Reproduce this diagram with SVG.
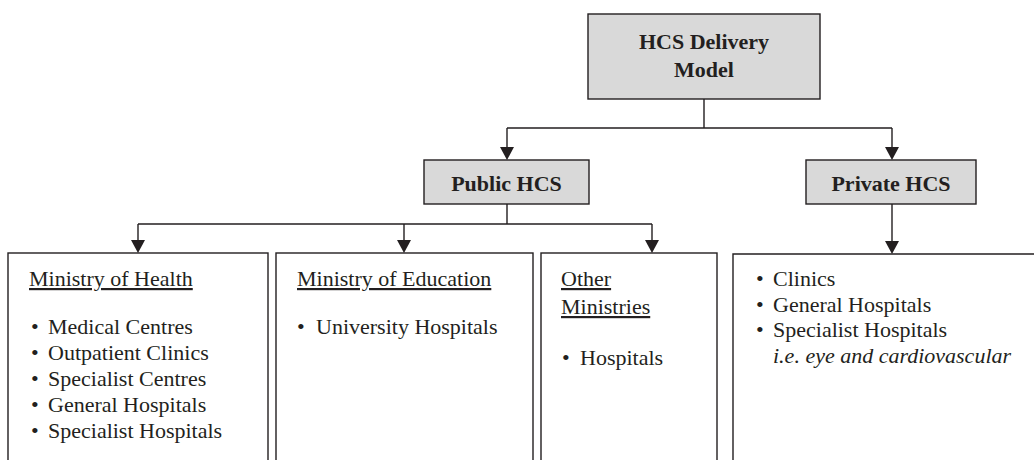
<svg xmlns="http://www.w3.org/2000/svg" width="1034" height="460" viewBox="0 0 1034 460">
<defs>
<style>
.hdr{fill:#d9d9d9;stroke:#231f20;stroke-width:1.4}
.box{fill:#ffffff;stroke:#231f20;stroke-width:1.4}
.t{font-family:'Liberation Serif','DejaVu Serif',serif;font-size:22px;fill:#231f20}
.b{font-weight:bold}
.u{text-decoration:underline}
.i{font-style:italic}
.c{fill:none;stroke:#231f20;stroke-width:1.4}
</style>
</defs>
<rect width="1034" height="460" fill="#ffffff"/>
<g id="connectors">
<path class="c" d="M704 99 V128 M507 128 H892"/>
<path class="c" d="M507 128 V147"/>
<path class="c" d="M892 128 V147"/>
<path class="c" d="M507 204 V224 M138 224 H652"/>
<path class="c" d="M138 224 V240"/>
<path class="c" d="M404 224 V240"/>
<path class="c" d="M652 224 V240"/>
<path class="c" d="M892 204 V241"/>
<g fill="#231f20">
<polygon points="500,147 514,147 507,160"/>
<polygon points="885,147 899,147 892,160"/>
<polygon points="131,240 145,240 138,253"/>
<polygon points="397,240 411,240 404,253"/>
<polygon points="645,240 659,240 652,253"/>
<polygon points="885,241 899,241 892,254"/>
</g>
</g>
<g id="hcs-delivery-model">
<rect class="hdr" x="588" y="14" width="232" height="85"/>
<text class="t b" font-family="Liberation Serif, serif" x="704" y="49" text-anchor="middle">HCS Delivery</text>
<text class="t b" font-family="Liberation Serif, serif" x="704" y="77" text-anchor="middle">Model</text>
</g>
<g id="public-hcs">
<rect class="hdr" x="424" y="160" width="165" height="44"/>
<text class="t b" font-family="Liberation Serif, serif" x="506.5" y="191" text-anchor="middle">Public HCS</text>
</g>
<g id="private-hcs">
<rect class="hdr" x="806" y="160" width="170" height="44"/>
<text class="t b" font-family="Liberation Serif, serif" x="891" y="191" text-anchor="middle">Private HCS</text>
</g>
<g id="ministry-of-health">
<rect class="box" x="8" y="253" width="260" height="220"/>
<text class="t u" font-family="Liberation Serif, serif" x="29" y="286">Ministry of Health</text>
<text class="t" font-family="Liberation Serif, serif" y="334"><tspan x="31">•</tspan><tspan x="48">Medical Centres</tspan></text>
<text class="t" font-family="Liberation Serif, serif" y="360"><tspan x="31">•</tspan><tspan x="48">Outpatient Clinics</tspan></text>
<text class="t" font-family="Liberation Serif, serif" y="386"><tspan x="31">•</tspan><tspan x="48">Specialist Centres</tspan></text>
<text class="t" font-family="Liberation Serif, serif" y="412"><tspan x="31">•</tspan><tspan x="48">General Hospitals</tspan></text>
<text class="t" font-family="Liberation Serif, serif" y="438"><tspan x="31">•</tspan><tspan x="48">Specialist Hospitals</tspan></text>
</g>
<g id="ministry-of-education">
<rect class="box" x="276" y="253" width="257" height="220"/>
<text class="t u" font-family="Liberation Serif, serif" x="297" y="286">Ministry of Education</text>
<text class="t" font-family="Liberation Serif, serif" y="334"><tspan x="297">•</tspan><tspan x="316">University Hospitals</tspan></text>
</g>
<g id="other-ministries">
<rect class="box" x="541" y="253" width="176" height="220"/>
<text class="t u" font-family="Liberation Serif, serif" x="561" y="286">Other</text>
<text class="t u" font-family="Liberation Serif, serif" x="561" y="314">Ministries</text>
<text class="t" font-family="Liberation Serif, serif" y="365"><tspan x="562">•</tspan><tspan x="580">Hospitals</tspan></text>
</g>
<g id="private-providers">
<path class="c" d="M733 470 V254 H1040"/>
<text class="t" font-family="Liberation Serif, serif" y="286"><tspan x="756">•</tspan><tspan x="773">Clinics</tspan></text>
<text class="t" font-family="Liberation Serif, serif" y="312"><tspan x="756">•</tspan><tspan x="773">General Hospitals</tspan></text>
<text class="t" font-family="Liberation Serif, serif" y="337"><tspan x="756">•</tspan><tspan x="773">Specialist Hospitals</tspan></text>
<text class="t i" font-family="Liberation Serif, serif" x="773" y="363">i.e. eye and cardiovascular</text>
</g>
</svg>
